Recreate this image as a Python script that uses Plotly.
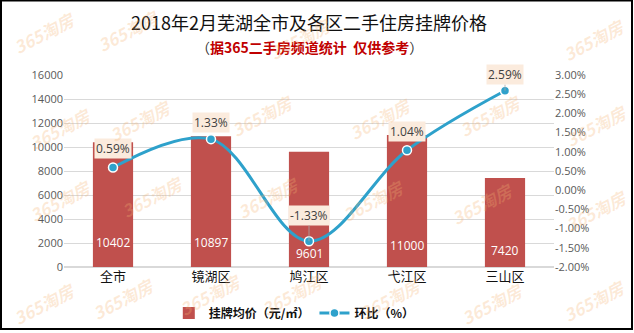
import plotly.graph_objects as go

# Listing prices by district, Wuhu, Feb 2018
categories = ["全市", "镜湖区", "鸠江区", "弋江区", "三山区"]
avg_price = [10402, 10897, 9601, 11000, 7420]          # 元/㎡
mom_change = [0.59, 1.33, -1.33, 1.04, 2.59]            # %
left_ticks = [0, 2000, 4000, 6000, 8000, 10000, 12000, 14000, 16000]
right_ticks = [-2.0, -1.5, -1.0, -0.5, 0.0, 0.5, 1.0, 1.5, 2.0, 2.5, 3.0]

BAR_RED = "#C0504D"
LINE_BLUE = "#2EA1CB"
CJK = "Noto Sans CJK SC"

fig = go.Figure()

fig.add_trace(go.Bar(
    x=categories, y=avg_price, name="<b>挂牌均价（元/㎡）</b>",
    marker=dict(color=BAR_RED, line=dict(width=0)),
    yaxis="y",
))

fig.add_trace(go.Scatter(
    x=categories, y=mom_change, name="<b>环比（%）</b>", yaxis="y2",
    mode="lines+markers",
    line=dict(color=LINE_BLUE, width=3, shape="spline", smoothing=1.0),
    marker=dict(size=9, color=LINE_BLUE, line=dict(color="white", width=1.5)),
))

# price values written near the base of each bar
base_offsets = [25, 25, 14, 22, 17]
for cat, v, off in zip(categories, avg_price, base_offsets):
    fig.add_annotation(
        x=cat, y=0, xref="x", yref="y", text=str(v), showarrow=False,
        yshift=off, font=dict(size=12, color="white", family="Open Sans"),
    )

# percentage labels above the line points
label_offsets = [19, 17, 26, 19, 16]
for cat, v, off in zip(categories, mom_change, label_offsets):
    leader = off > 22 or v == max(mom_change)
    fig.add_annotation(
        x=cat, y=v, xref="x", yref="y2",
        text=f"{v:.2f}%", showarrow=leader,
        arrowhead=0, arrowwidth=0.8, arrowcolor="#A6A6A6",
        ax=0, ay=-off, yshift=0 if leader else off,
        font=dict(size=12, color="#404040", family="Open Sans"),
        bgcolor="#FBEBDD", borderpad=1,
    )

# title and source note
fig.add_annotation(
    x=0.5, y=(267 - 22) / 192, xref="paper", yref="paper", showarrow=False,
    yanchor="middle",
    text="2018年2月芜湖全市及各区二手住房挂牌价格",
    font=dict(family=CJK, size=18, color="#111111"),
)
fig.add_annotation(
    x=0.5, y=(267 - 47) / 192, xref="paper", yref="paper", showarrow=False,
    yanchor="middle",
    text="（<b><span style='color:#C00000'>据365二手房频道统计  仅供参考</span></b>）",
    font=dict(family=CJK, size=14, color="#333333"),
)

# faint brand watermarks
marks = [(44, 32), (128, 30), (300, 38), (594, 40),
         (60, 128), (140, 120), (262, 115), (380, 118), (490, 115), (596, 125),
         (60, 200), (152, 196), (268, 197), (373, 200), (482, 203), (596, 210),
         (44, 303), (123, 298), (210, 294), (292, 294), (390, 298), (492, 303), (594, 300)]
for px, py in marks:
    fig.add_annotation(
        x=(px - 64) / 490, y=(267 - py) / 192, xref="paper", yref="paper",
        xanchor="center", yanchor="middle",
        text="<b><i>365淘房</i></b>", showarrow=False, textangle=-28,
        font=dict(size=17, color="rgba(245,180,115,0.28)", family=CJK),
    )

# outer frame
fig.add_shape(type="rect", xref="paper", yref="paper",
              x0=(1 - 64) / 490, x1=(632 - 64) / 490,
              y0=(267 - 329) / 192, y1=(267 - 0.5) / 192,
              line=dict(color="black", width=2), layer="below")

fig.update_layout(
    width=634, height=333,
    margin=dict(l=64, r=80, t=75, b=66, autoexpand=False),
    paper_bgcolor="white", plot_bgcolor="white",
    bargap=0.59,
    showlegend=True,
    legend=dict(orientation="h", x=0.47, xanchor="center", xref="paper",
                y=-0.24, yanchor="middle", itemwidth=30,
                font=dict(family=CJK, size=12, color="#111111"),
                traceorder="normal"),
    xaxis=dict(showgrid=False, showline=False, ticks="", automargin=False,
               tickfont=dict(family=CJK, size=13, color="#111111")),
    yaxis=dict(range=[0, 16000], tickvals=left_ticks, tickformat="d",
               showline=False, automargin=False,
               gridcolor="#D9D9D9", gridwidth=1, zeroline=True,
               zerolinecolor="#D9D9D9", ticks="",
               tickfont=dict(family="Open Sans", size=11, color="#595959")),
    yaxis2=dict(range=[-2.0, 3.0], tickvals=right_ticks,
                ticktext=[f"{t:.2f}%" for t in right_ticks],
                overlaying="y", side="right", showgrid=False, zeroline=False,
                showline=False, ticks="", automargin=False,
                tickfont=dict(family="Open Sans", size=11, color="#595959")),
)

fig.write_html("out.html")
